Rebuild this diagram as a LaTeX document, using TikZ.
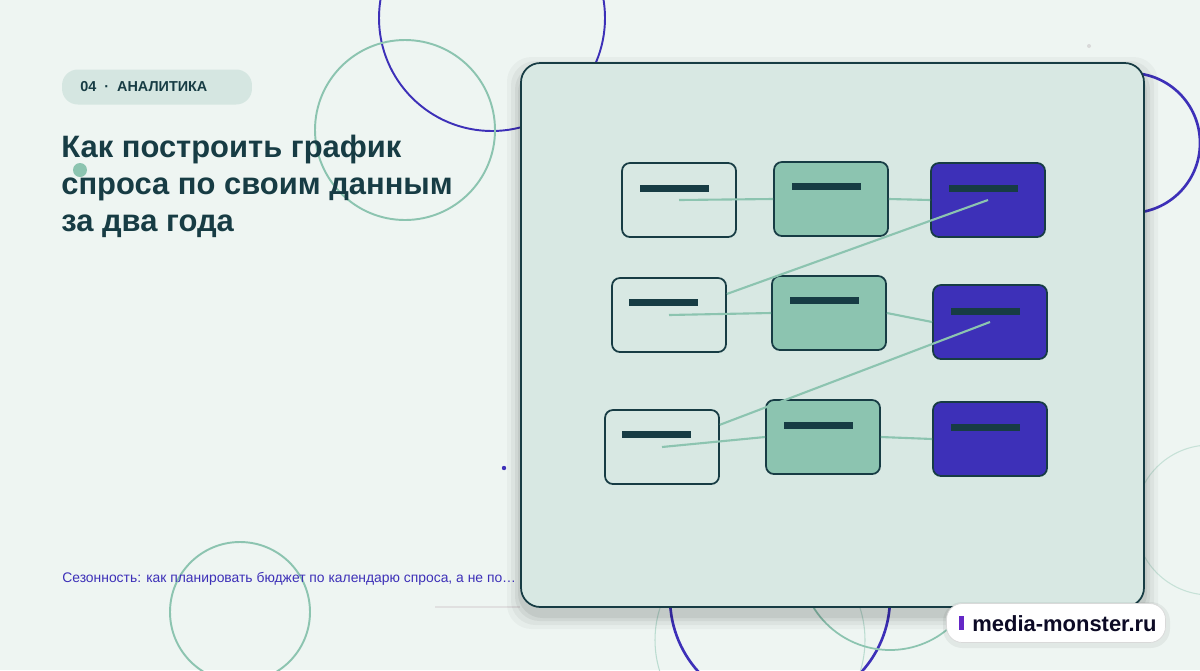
\documentclass[tikz,border=0pt]{standalone}
\usepackage{fontspec}
\setmainfont{Liberation Sans}
\definecolor{bgc}{HTML}{EEF5F2}
\definecolor{cardc}{HTML}{D8E8E3}
\definecolor{inkc}{HTML}{173C44}
\definecolor{mintc}{HTML}{8CC4B0}
\definecolor{indc}{HTML}{3D30B8}
\definecolor{pillc}{HTML}{D5E6E1}
\begin{document}
\begin{tikzpicture}[x=0.02cm,y=-0.02cm]
		\tikzset{ring/.style = {draw, line width=1.5pt},
			box/.style = {draw=inkc, line width=1pt, rounded corners=4.5pt, minimum width=2.28cm, minimum height=1.48cm, inner sep=0pt},
			lightbox/.style = {box, fill=cardc},
			greenbox/.style = {box, fill=mintc},
			bluebox/.style = {box, fill=indc},
			bar/.style = {fill=inkc},
			link/.style = {draw=mintc, line width=1.2pt}}

		\fill[bgc] (0,0) rectangle (1200,670);
		\useasboundingbox (0,0) rectangle (1200,670);

		% decorative rings
		\draw[ring, indc, line width=1.1pt] (492,18) circle (113);
		\draw[ring, mintc, line width=1.1pt] (405,130) circle (90);
		\draw[ring, mintc, line width=1.1pt] (240,612) circle (70);
		\draw[ring, indc] (1130,143) circle (70);
		\draw[ring, mintc!50, line width=0.6pt] (1210,520) circle (75);
		\draw[ring, indc] (780,598) circle (110);
		\draw[ring, mintc!60, line width=0.6pt] (760,640) circle (105);
		\draw[ring, mintc, line width=1pt] (890,560) circle (90);
		\fill[mintc] (80,170) circle (7);
		\fill[indc] (504,468) circle (2.2);
		\fill[black!15] (1089,46) circle (2);
		\draw[black!12, line width=1pt] (435,607) -- (520,607);

		% header texts
		\node[fill=pillc, rounded corners=9pt, minimum width=3.8cm, minimum height=0.7cm, inner sep=0pt] (tag) at (157,87) {};
		\node[anchor=west, text=inkc, font=\bfseries\fontsize{8.2}{10}\selectfont, inner sep=0pt] (tagtext) at (80,87) {04\ \ ·\ \ АНАЛИТИКА};
		\node[anchor=north west, text=inkc, align=left, inner sep=0pt, font=\bfseries\fontsize{17.6}{21}\selectfont] (title) at (61,135)
			{Как построить график\\спроса по своим данным\\за два года};

		% card with soft shadow
		\foreach \s/\o in {14/0.03, 10/0.04, 6/0.05, 3/0.06}
			\fill[black, opacity=\o, rounded corners=14pt] (521-\s,63-\s+8) rectangle (1144+\s,607+\s+8);
		\fill[rounded corners=11pt, cardc, draw=inkc, line width=1pt] (521,63) rectangle (1144,607);

		\node[anchor=base west, text=indc, inner sep=0pt, font=\fontsize{7.9}{10}\selectfont] (sub) at (62,582)
			{Сезонность: как планировать бюджет по календарю спроса, а не по…};

		% boxes
		\node[lightbox] (A_1) at (679,200) {};
		\node[greenbox] (B_1) at (831,199) {};
		\node[bluebox] (C_1) at (988,200) {};
		\node[lightbox] (A_2) at (669,315) {};
		\node[greenbox] (B_2) at (829,313) {};
		\node[bluebox] (C_2) at (990,322) {};
		\node[lightbox] (A_3) at (662,447) {};
		\node[greenbox] (B_3) at (823,437) {};
		\node[bluebox] (C_3) at (990,439) {};

		% links
		\draw[link] (A_1.center) -- (B_1.west);
		\draw[link] (B_1.east) -- (C_1.west);
		\draw[link] (C_1.center) -- (A_2.20);
		\draw[link] (A_2.center) -- (B_2.west);
		\draw[link] (B_2.east) -- (C_2.west);
		\draw[link] (C_2.center) -- (A_3.21);
		\draw[link] (A_3.center) -- (B_3.west);
		\draw[link] (B_3.east) -- (C_3.west);

		% bars
		\foreach \n/\dx/\dy in {A_1/-39/-12, B_1/-39/-13, C_1/-39/-12, A_2/-40/-13, B_2/-39/-13, C_2/-39/-11, A_3/-40/-13, B_3/-39/-12, C_3/-39/-12}
			\fill[bar] ([shift={(\dx,\dy-3.5)}]\n.center) rectangle ++(69,7);

		% badge
		\fill[black, opacity=0.05, rounded corners=11pt] (943,602) rectangle (1170,648);
		\node[fill=white, draw=black!15, rounded corners=9pt, minimum width=4.38cm, minimum height=0.78cm, inner sep=0pt] (badge) at (1056,623) {};
		\fill[indc!80!magenta] (959,616) rectangle (964,630);
		\node[anchor=west, inner sep=0pt, text=black!80!indc, font=\bfseries\fontsize{12.5}{14}\selectfont] (site) at (972,624) {media-monster.ru};
	\end{tikzpicture}
\end{document}
